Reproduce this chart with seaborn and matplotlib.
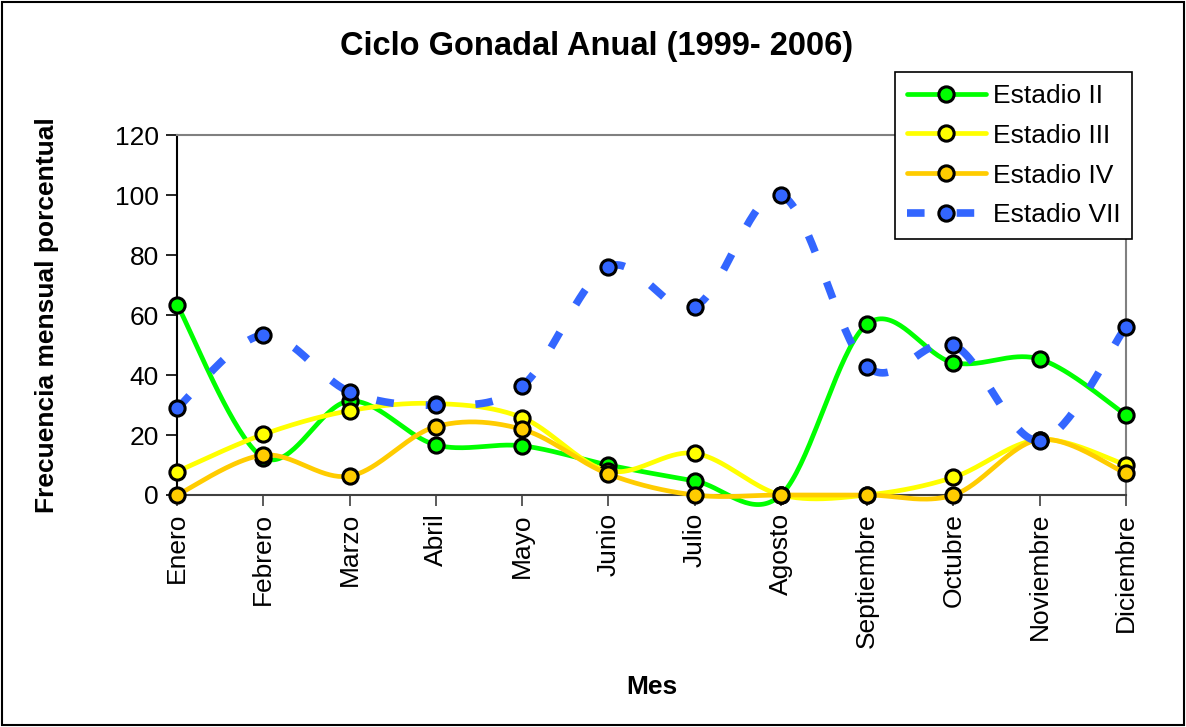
import numpy as np
import pandas as pd
import matplotlib
matplotlib.use("Agg")
import matplotlib.pyplot as plt
from matplotlib.lines import Line2D
from matplotlib.patches import Rectangle
import seaborn as sns

meses = ["Enero", "Febrero", "Marzo", "Abril", "Mayo", "Junio", "Julio",
         "Agosto", "Septiembre", "Octubre", "Noviembre", "Diciembre"]

estadio_ii = [63.5, 12.5, 31.3, 16.7, 16.4, 10.0, 4.7, 0.0, 57.0, 44.1, 45.3, 26.7]
estadio_iii = [7.8, 20.2, 28.1, 30.5, 25.8, 8.0, 13.9, 0.0, 0.0, 5.9, 18.5, 10.0]
estadio_iv = [0.0, 13.3, 6.3, 22.8, 21.9, 7.0, 0.0, 0.0, 0.0, 0.0, 18.5, 7.2]
estadio_vii = [28.9, 53.3, 34.4, 30.0, 36.3, 76.1, 62.8, 100.0, 42.8, 50.0, 18.1, 56.1]

series_names = ["Estadio II", "Estadio III", "Estadio IV", "Estadio VII"]
series_values = [estadio_ii, estadio_iii, estadio_iv, estadio_vii]
colors = ["#00FF00", "#FFFF00", "#FFCC00", "#3366FF"]


def smooth(xs, ys, n=40):
    """Catmull-Rom style Bezier smoothing through every point."""
    pts = np.column_stack([xs, ys]).astype(float)
    ext = np.vstack([pts[0], pts, pts[-1]])
    out = []
    t = np.linspace(0, 1, n)[:, None]
    for i in range(len(pts) - 1):
        p0, p1, p2, p3 = ext[i], ext[i + 1], ext[i + 2], ext[i + 3]
        b1 = p1 + (p2 - p0) / 6.0
        b2 = p2 - (p3 - p1) / 6.0
        seg = ((1 - t) ** 3) * p1 + 3 * ((1 - t) ** 2) * t * b1 + 3 * (1 - t) * t ** 2 * b2 + t ** 3 * p2
        out.append(seg if i == 0 else seg[1:])
    arr = np.vstack(out)
    return arr[:, 0], arr[:, 1]


sns.set_style("white")
plt.rcParams["font.family"] = ["Liberation Sans", "DejaVu Sans"]
plt.rcParams["text.color"] = "black"
plt.rcParams["axes.labelcolor"] = "black"
plt.rcParams["xtick.color"] = "black"
plt.rcParams["ytick.color"] = "black"

fig = plt.figure(figsize=(11.86, 7.27), dpi=100)
ax = fig.add_axes([177 / 1186, 1 - 495 / 727, (1126 - 177) / 1186, (495 - 135) / 727])

x = np.arange(len(meses))
dash_pattern = [2.3, 4.2]
handles = []
for k, (name, vals, col) in enumerate(zip(series_names, series_values, colors)):
    sx, sy = smooth(x, vals)
    df = pd.DataFrame({"x": sx, "y": sy})
    dashed = name == "Estadio VII"
    lw = 5.5 if dashed else 3.4
    sns.lineplot(data=df, x="x", y="y", sort=False, ax=ax, color=col, lw=lw,
                 zorder=3 + k, clip_on=False, legend=False)
    line = ax.lines[-1]
    if dashed:
        line.set_dashes(dash_pattern)
        line.set_dash_capstyle("butt")
    pts = pd.DataFrame({"mes": x, "valor": vals})
    sns.scatterplot(data=pts, x="mes", y="valor", ax=ax, color=col, s=120,
                    edgecolor="black", linewidth=2.2, zorder=3.5 + k,
                    clip_on=False, legend=False)
    h = Line2D([0], [0], color=col, lw=lw, marker="o", markersize=11,
               markerfacecolor=col, markeredgecolor="black", markeredgewidth=2.2)
    if dashed:
        h.set_dashes(dash_pattern)
        h.set_dash_capstyle("butt")
    handles.append(h)

ax.set_xlim(0, 11)
ax.set_ylim(0, 120)
ax.set_yticks(range(0, 121, 20))
ax.set_xticks(x)
ax.set_xticklabels(meses, rotation=90, fontsize=19)
ax.tick_params(axis="y", labelsize=19, direction="out", length=8, width=1.2,
               color="black", left=True, pad=5)
ax.tick_params(axis="x", direction="out", length=8, width=1.2, color="#404040",
               bottom=True, pad=5)

for side in ["top", "right"]:
    ax.spines[side].set_color("#808080")
    ax.spines[side].set_linewidth(1.5)
ax.spines["left"].set_color("black")
ax.spines["left"].set_linewidth(1.5)
ax.spines["bottom"].set_color("#404040")
ax.spines["bottom"].set_linewidth(1.5)

ax.set_xlabel("Mes", fontsize=19, fontweight="bold")
ax.set_ylabel("Frecuencia mensual porcentual", fontsize=19, fontweight="bold", labelpad=40)
ax.xaxis.set_label_coords(0.5, -0.50)

fig.text(597 / 1186, 1 - 47 / 727, "Ciclo Gonadal Anual (1999- 2006)", ha="center",
         va="center", fontsize=23.5, fontweight="bold")

leg = fig.legend(handles, series_names, loc="upper left",
                 bbox_to_anchor=(895 / 1186, 1 - 72 / 727), fontsize=19,
                 frameon=True, fancybox=False, edgecolor="black", framealpha=1,
                 handlelength=3.0, handletextpad=0.25, borderpad=0.45,
                 labelspacing=0.6, borderaxespad=0)
leg.get_frame().set_linewidth(1.2)
leg.set_zorder(20)

fig.patches.append(Rectangle((2 / 1186, 2 / 727), 1182 / 1186, 723 / 727,
                             transform=fig.transFigure, fill=False,
                             edgecolor="black", linewidth=1.5))

fig.savefig("out.png", dpi=100)
